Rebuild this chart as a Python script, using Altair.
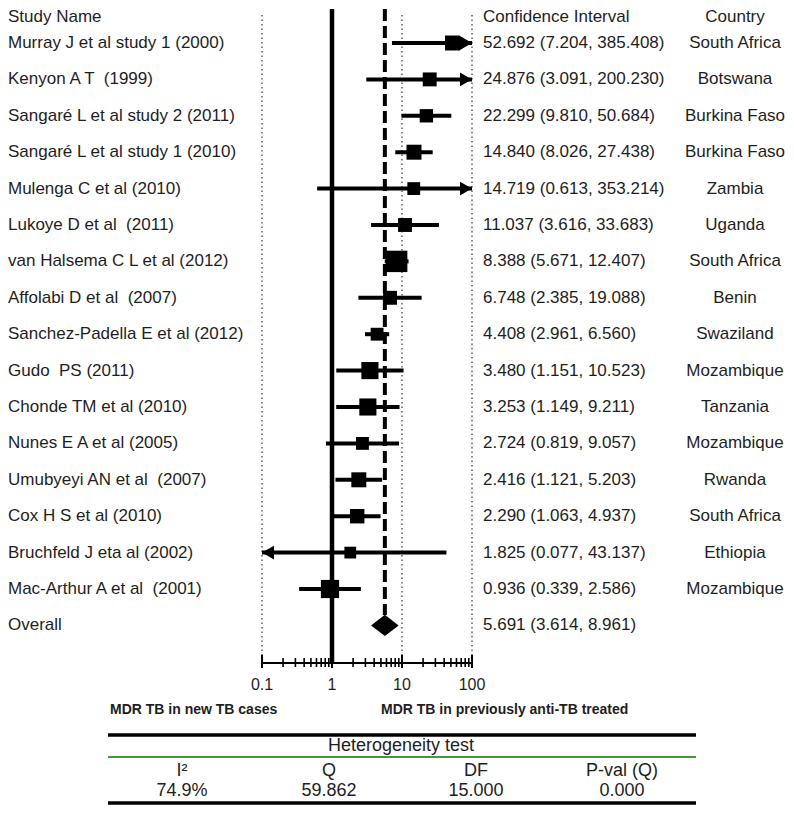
import altair as alt
import pandas as pd

# ---------------- data ----------------
studies = [
    "Murray J et al study 1 (2000)",
    "Kenyon A T \u00a0(1999)",
    "Sangaré L et al study 2 (2011)",
    "Sangaré L et al study 1 (2010)",
    "Mulenga C et al (2010)",
    "Lukoye D et al \u00a0(2011)",
    "van Halsema C L et al (2012)",
    "Affolabi D et al \u00a0(2007)",
    "Sanchez-Padella E et al (2012)",
    "Gudo \u00a0PS (2011)",
    "Chonde TM et al (2010)",
    "Nunes E A et al (2005)",
    "Umubyeyi AN et al \u00a0(2007)",
    "Cox H S et al (2010)",
    "Bruchfeld J eta al (2002)",
    "Mac-Arthur A et al \u00a0(2001)",
]
odds = [52.692, 24.876, 22.299, 14.840, 14.719, 11.037, 8.388, 6.748,
        4.408, 3.480, 3.253, 2.724, 2.416, 2.290, 1.825, 0.936]
lower = [7.204, 3.091, 9.810, 8.026, 0.613, 3.616, 5.671, 2.385,
         2.961, 1.151, 1.149, 0.819, 1.121, 1.063, 0.077, 0.339]
upper = [385.408, 200.230, 50.684, 27.438, 353.214, 33.683, 12.407, 19.088,
         6.560, 10.523, 9.211, 9.057, 5.203, 4.937, 43.137, 2.586]
countries = ["South Africa", "Botswana", "Burkina Faso", "Burkina Faso", "Zambia",
             "Uganda", "South Africa", "Benin", "Swaziland", "Mozambique",
             "Tanzania", "Mozambique", "Rwanda", "South Africa", "Ethiopia",
             "Mozambique"]
weights = [6.15, 5.30, 4.89, 6.15, 4.52, 5.30, 12.55, 5.30,
           4.52, 8.03, 8.03, 4.52, 6.15, 5.71, 3.80, 9.07]  # relative weight (%)

overall_label = "Overall"
overall_or, overall_lo, overall_hi = 5.691, 3.614, 8.961

axis_ticks = [0.1, 1, 10, 100]
axis_tick_labels = ["0.1", "1", "10", "100"]
ref_lines = [0.1, 10, 100]
null_value = 1

col_headers = ["Study Name", "Confidence Interval", "Country"]
side_labels = ["MDR TB in new TB cases", "MDR TB in previously anti-TB treated"]

het_title = "Heterogeneity test"
het_headers = ["I\u00b2", "Q", "DF", "P-val (Q)"]
het_values = ["74.9%", "59.862", "15.000", "0.000"]

# ---------------- frames ----------------
XMIN, XMAX = axis_ticks[0], axis_ticks[-1]
n = len(studies)
df = pd.DataFrame({
    "row": list(range(n)), "study": studies, "or": odds, "lo": lower,
    "hi": upper, "country": countries, "w": weights,
})
df["lo_c"] = df["lo"].clip(lower=XMIN)
df["hi_c"] = df["hi"].clip(upper=XMAX)

labels = pd.DataFrame({
    "row": list(range(n + 1)),
    "study": studies + [overall_label],
    "ci": [f"{o:.3f} ({l:.3f}, {h:.3f})" for o, l, h in zip(odds + [overall_or], lower + [overall_lo], upper + [overall_hi])],
    "country": countries + [""],
})

right_arrows = df[df["hi"] > XMAX].assign(tip=XMAX)
left_arrows = df[df["lo"] < XMIN].assign(tip=XMIN)

half = 0.29
diamond = pd.DataFrame({
    "x": [overall_lo, overall_or, overall_hi],
    "y": [n, n - half, n],
    "y2": [n, n + half, n],
})

minor = [k * 10.0 ** d for d in (-1, 0, 1) for k in range(2, 10)]

FONT = "Liberation Sans"
TXT = "#1e1e1e"
xs = alt.Scale(type="log", domain=[XMIN, XMAX], range=[254, 464])
ys = alt.Scale(type="linear", domain=[0, n], range=[35, 35 + 36.4 * n])
X = lambda f: alt.X(f, scale=xs, axis=None)
Y = alt.Y("row:Q", scale=ys, axis=None)

AXIS_Y = 655
COUNTRY_X = 727
layers = []

# dotted reference lines
layers.append(alt.Chart(pd.DataFrame({"v": ref_lines})).mark_rule(
    color="#7a7a7a", strokeWidth=1.8, strokeDash=[1.5, 3]).encode(
    x=X("v:Q"), y=alt.value(7), y2=alt.value(AXIS_Y)))
# null line
layers.append(alt.Chart(pd.DataFrame({"v": [null_value]})).mark_rule(
    color="black", strokeWidth=4.5).encode(
    x=X("v:Q"), y=alt.value(1), y2=alt.value(AXIS_Y)))
# overall dashed line
layers.append(alt.Chart(pd.DataFrame({"v": [overall_or]})).mark_rule(
    color="black", strokeWidth=4, strokeDash=[12, 5]).encode(
    x=X("v:Q"), y=alt.value(1), y2=alt.value(607)))
# CI lines
layers.append(alt.Chart(df).mark_rule(color="black", strokeWidth=4).encode(
    x=X("lo_c:Q"), x2="hi_c:Q", y=Y))
# squares
layers.append(alt.Chart(df).mark_square(color="black", filled=True, opacity=1).encode(
    x=X("or:Q"), y=Y,
    size=alt.Size("w:Q", scale=alt.Scale(domain=[0, 100], range=[0, 3650]), legend=None)))
# arrows
layers.append(alt.Chart(right_arrows).mark_point(
    shape="triangle-right", filled=True, color="black", opacity=1, size=190, xOffset=-6).encode(
    x=X("tip:Q"), y=Y))
layers.append(alt.Chart(left_arrows).mark_point(
    shape="triangle-left", filled=True, color="black", opacity=1, size=190, xOffset=6).encode(
    x=X("tip:Q"), y=Y))
# diamond
layers.append(alt.Chart(diamond).mark_area(color="black", orient="vertical", opacity=1).encode(
    x=X("x:Q"), y=alt.Y("y:Q", scale=ys, axis=None), y2="y2:Q"))
# axis
layers.append(alt.Chart(pd.DataFrame({"a": [XMIN], "b": [XMAX]})).mark_rule(
    color="black", strokeWidth=2).encode(x=X("a:Q"), x2="b:Q", y=alt.value(AXIS_Y)))
layers.append(alt.Chart(pd.DataFrame({"v": axis_ticks})).mark_rule(
    color="black", strokeWidth=2).encode(x=X("v:Q"), y=alt.value(AXIS_Y - 8), y2=alt.value(AXIS_Y + 5)))
layers.append(alt.Chart(pd.DataFrame({"v": minor})).mark_rule(
    color="black", strokeWidth=1.6).encode(x=X("v:Q"), y=alt.value(AXIS_Y - 5), y2=alt.value(AXIS_Y + 4)))
layers.append(alt.Chart(pd.DataFrame({"v": axis_ticks, "t": axis_tick_labels})).mark_text(
    font=FONT, fontSize=16, color=TXT, baseline="middle", align="center").encode(
    x=X("v:Q"), y=alt.value(677), text="t:N"))

# text columns
layers.append(alt.Chart(labels).mark_text(
    font=FONT, fontSize=17, color=TXT, baseline="middle", align="left").encode(
    x=alt.value(0), y=Y, text="study:N"))
layers.append(alt.Chart(labels).mark_text(
    font=FONT, fontSize=17, color=TXT, baseline="middle", align="left").encode(
    x=alt.value(475), y=Y, text="ci:N"))
layers.append(alt.Chart(labels).mark_text(
    font=FONT, fontSize=17, color=TXT, baseline="middle", align="center").encode(
    x=alt.value(COUNTRY_X), y=Y, text="country:N"))

# column headers
for label, xp, al in zip(col_headers, [0, 475, COUNTRY_X], ["left", "left", "center"]):
    layers.append(alt.Chart(pd.DataFrame({"t": [label]})).mark_text(
        font=FONT, fontSize=17, color=TXT, baseline="middle", align=al).encode(
        x=alt.value(xp), y=alt.value(9), text="t:N"))

# side labels under the axis
for label, xp in zip(side_labels, [102, 373]):
    layers.append(alt.Chart(pd.DataFrame({"t": [label]})).mark_text(
        font=FONT, fontSize=14, fontWeight="bold", color=TXT, baseline="middle", align="left").encode(
        x=alt.value(xp), y=alt.value(702), text="t:N"))

# heterogeneity table
TL, TR = 100, 688
layers.append(alt.Chart(pd.DataFrame({"k": [0]})).mark_rule(color="black", strokeWidth=3.5).encode(
    x=alt.value(TL), x2=alt.value(TR), y=alt.value(727)))
layers.append(alt.Chart(pd.DataFrame({"k": [0]})).mark_rule(color="#3f9a3f", strokeWidth=2).encode(
    x=alt.value(TL), x2=alt.value(TR), y=alt.value(749)))
layers.append(alt.Chart(pd.DataFrame({"k": [0]})).mark_rule(color="black", strokeWidth=3.5).encode(
    x=alt.value(TL), x2=alt.value(TR), y=alt.value(795)))
layers.append(alt.Chart(pd.DataFrame({"t": [het_title]})).mark_text(
    font=FONT, fontSize=18, color=TXT, baseline="middle", align="center").encode(
    x=alt.value(393), y=alt.value(738), text="t:N"))
for h, v, xp in zip(het_headers, het_values, [174, 321, 468, 614]):
    layers.append(alt.Chart(pd.DataFrame({"t": [h]})).mark_text(
        font=FONT, fontSize=18, color=TXT, baseline="middle", align="center").encode(
        x=alt.value(xp), y=alt.value(763), text="t:N"))
    layers.append(alt.Chart(pd.DataFrame({"t": [v]})).mark_text(
        font=FONT, fontSize=18, color=TXT, baseline="middle", align="center").encode(
        x=alt.value(xp), y=alt.value(783), text="t:N"))

chart = alt.layer(*layers).properties(
    width=778, height=797, padding=0,
    autosize=alt.AutoSizeParams(type="none"),
).configure_view(stroke=None)

chart.save("out.html", embed_options={"renderer": "svg", "actions": False})
